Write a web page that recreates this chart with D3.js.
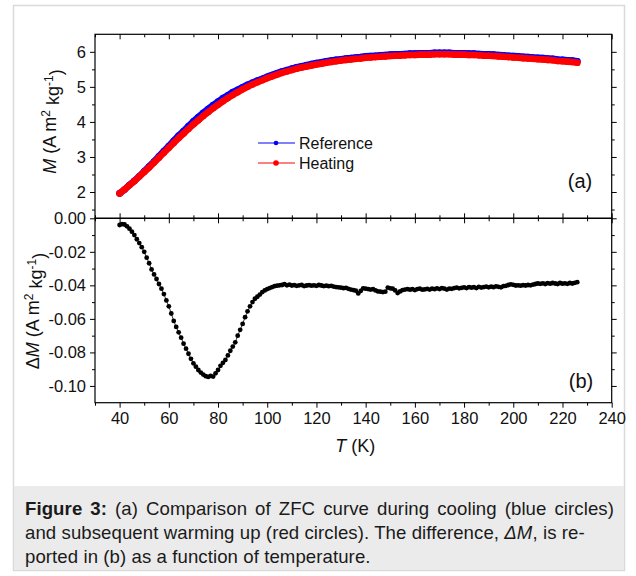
<!DOCTYPE html>
<html>
<head>
<meta charset="utf-8">
<script src="https://cdn.jsdelivr.net/npm/d3@7"></script>
<style>
  html, body { margin: 0; padding: 0; background: #fff; }
  svg { display: block; font-family: "Liberation Sans", Arial, Helvetica, sans-serif; }
</style>
</head>
<body>
<svg id="chart" width="636" height="576"></svg>
<script>
// ---------------- DATA ----------------
const tempM = [40,42,44,46,48,50,52,54,56,58,
  60,62,64,66,68,70,72,74,76,78,
  80,82,84,86,88,90,92,94,96,98,
  100,102,104,106,108,110,112,114,116,118,
  120,122,124,126,128,130,132,134,136,138,
  140,142,144,146,148,150,152,154,156,158,
  160,162,164,166,168,170,172,174,176,178,
  180,182,184,186,188,190,192,194,196,198,
  200,202,204,206,208,210,212,214,216,218,
  220,222,224,226];

const mReference = [1.96,2.07,2.20,2.32,2.45,2.59,2.73,2.87,3.02,3.17,
  3.31,3.46,3.61,3.74,3.88,4.02,4.14,4.26,4.37,4.48,
  4.58,4.68,4.76,4.85,4.92,4.99,5.06,5.12,5.18,5.23,
  5.29,5.34,5.39,5.44,5.48,5.52,5.56,5.59,5.62,5.65,
  5.68,5.70,5.73,5.75,5.77,5.79,5.81,5.82,5.84,5.85,
  5.87,5.88,5.89,5.90,5.91,5.92,5.93,5.93,5.94,5.95,
  5.95,5.96,5.96,5.96,5.97,5.97,5.97,5.97,5.96,5.96,
  5.96,5.95,5.95,5.94,5.93,5.93,5.92,5.91,5.90,5.89,
  5.88,5.87,5.86,5.85,5.84,5.83,5.82,5.81,5.80,5.78,
  5.77,5.76,5.75,5.73];

const mHeating = [1.96,2.07,2.19,2.31,2.44,2.57,2.70,2.84,2.98,3.12,
  3.26,3.40,3.54,3.67,3.80,3.93,4.05,4.17,4.28,4.39,
  4.49,4.59,4.68,4.77,4.85,4.93,5.00,5.07,5.13,5.19,
  5.25,5.30,5.35,5.40,5.44,5.48,5.52,5.55,5.58,5.61,
  5.64,5.66,5.69,5.71,5.73,5.75,5.77,5.78,5.80,5.81,
  5.83,5.84,5.85,5.86,5.87,5.88,5.89,5.89,5.90,5.91,
  5.91,5.92,5.92,5.92,5.93,5.93,5.93,5.93,5.92,5.92,
  5.92,5.91,5.91,5.90,5.89,5.89,5.88,5.87,5.86,5.85,
  5.84,5.83,5.82,5.81,5.80,5.79,5.78,5.77,5.76,5.74,
  5.73,5.72,5.71,5.69];

const tempDM = [40,41,42,43,44,45,46,47,48,49,
  50,51,52,53,54,55,56,57,58,59,
  60,61,62,63,64,65,66,67,68,69,
  70,71,72,73,74,75,76,77,78,79,
  80,81,82,83,84,85,86,87,88,89,
  90,91,92,93,94,95,96,97,98,99,
  100,101,102,103,104,105,106,107,108,109,
  110,111,112,113,114,115,116,117,118,119,
  120,121,122,123,124,125,126,127,128,129,
  130,131,132,133,134,135,136,137,138,139,
  140,141,142,143,144,145,146,147,148,149,
  150,151,152,153,154,155,156,157,158,159,
  160,161,162,163,164,165,166,167,168,169,
  170,171,172,173,174,175,176,177,178,179,
  180,181,182,183,184,185,186,187,188,189,
  190,191,192,193,194,195,196,197,198,199,
  200,201,202,203,204,205,206,207,208,209,
  210,211,212,213,214,215,216,217,218,219,
  220,221,222,223,224,225,226];

const deltaM = [-0.0040,-0.0035,-0.0037,-0.0048,-0.0062,-0.0080,-0.0100,-0.0125,-0.0148,-0.0172,
  -0.0200,-0.0235,-0.0268,-0.0305,-0.0335,-0.0362,-0.0392,-0.0420,-0.0452,-0.0490,
  -0.0525,-0.0568,-0.0612,-0.0648,-0.0680,-0.0712,-0.0748,-0.0778,-0.0808,-0.0838,
  -0.0865,-0.0885,-0.0905,-0.0920,-0.0932,-0.0942,-0.0946,-0.0940,-0.0944,-0.0925,
  -0.0905,-0.0880,-0.0862,-0.0845,-0.0818,-0.0790,-0.0765,-0.0740,-0.0700,-0.0665,
  -0.0630,-0.0590,-0.0555,-0.0525,-0.0500,-0.0480,-0.0468,-0.0455,-0.0440,-0.0430,
  -0.0422,-0.0416,-0.0410,-0.0405,-0.0402,-0.0400,-0.0398,-0.0393,-0.0400,-0.0396,
  -0.0401,-0.0399,-0.0403,-0.0400,-0.0398,-0.0404,-0.0401,-0.0399,-0.0402,-0.0400,
  -0.0403,-0.0398,-0.0401,-0.0404,-0.0402,-0.0405,-0.0403,-0.0407,-0.0410,-0.0412,
  -0.0414,-0.0417,-0.0415,-0.0421,-0.0425,-0.0428,-0.0432,-0.0448,-0.0433,-0.0418,
  -0.0420,-0.0422,-0.0425,-0.0423,-0.0430,-0.0436,-0.0438,-0.0440,-0.0438,-0.0413,
  -0.0418,-0.0420,-0.0430,-0.0446,-0.0436,-0.0428,-0.0425,-0.0422,-0.0426,-0.0423,
  -0.0428,-0.0422,-0.0420,-0.0426,-0.0424,-0.0421,-0.0425,-0.0420,-0.0423,-0.0418,
  -0.0422,-0.0416,-0.0420,-0.0425,-0.0419,-0.0421,-0.0416,-0.0413,-0.0418,-0.0415,
  -0.0412,-0.0416,-0.0410,-0.0414,-0.0411,-0.0416,-0.0409,-0.0413,-0.0410,-0.0407,
  -0.0412,-0.0408,-0.0411,-0.0406,-0.0409,-0.0412,-0.0405,-0.0403,-0.0398,-0.0394,
  -0.0397,-0.0401,-0.0400,-0.0402,-0.0399,-0.0401,-0.0398,-0.0400,-0.0396,-0.0392,
  -0.0389,-0.0391,-0.0388,-0.0392,-0.0387,-0.0390,-0.0386,-0.0389,-0.0392,-0.0386,
  -0.0390,-0.0388,-0.0391,-0.0386,-0.0389,-0.0385,-0.0381];

const xMajorTicks = [40,60,80,100,120,140,160,180,200,220,240];
const xMinorTicks = [30,50,70,90,110,130,150,170,190,210,230];
const yTopMajorTicks = [2,3,4,5,6];
const yTopMinorTicks = [1.5,2.5,3.5,4.5,5.5];
const yBotMajorTicks = [0,-0.02,-0.04,-0.06,-0.08,-0.10];
const yBotMinorTicks = [-0.01,-0.03,-0.05,-0.07,-0.09];
const seriesNames = ["Reference", "Heating"];
const seriesColors = ["#0000ff", "#ff0000"];
const panelLabels = ["(a)", "(b)"];
const captionLines = [
  [{t:"Figure 3:", b:true}, {t:" (a) Comparison of ZFC curve during cooling (blue circles)"}],
  [{t:"and subsequent warming up (red circles). The difference, "}, {t:"ΔM", i:true}, {t:", is re-"}],
  [{t:"ported in (b) as a function of temperature."}]
];

// ---------------- LAYOUT ----------------
const svg = d3.select("#chart");
const L = 95, R = 611.7, TOP = 34.3, MID = 218.3, BOT = 402.7;

svg.append("rect").attr("x",0).attr("y",0).attr("width",636).attr("height",576).attr("fill","#fff");
svg.append("rect").attr("x",13.5).attr("y",5.5).attr("width",611).attr("height",565)
  .attr("fill","none").attr("stroke","#dadada").attr("stroke-width",1.5);
svg.append("rect").attr("x",14).attr("y",486).attr("width",610).attr("height",84).attr("fill","#ebebeb");

const x = d3.scaleLinear().domain([30,240]).range([L,R]);
const yTop = d3.scaleLinear().domain([1.25,6.5]).range([MID,TOP]);
const yBot = d3.scaleLinear().domain([-0.11,0]).range([BOT,MID]);

function styleAxis(g){
  g.select(".domain").remove();
  g.selectAll(".tick line").attr("stroke","#000").attr("stroke-width",1);
  g.selectAll(".tick text").attr("fill","#111").style("font-size","16.5px")
    .style("font-family",'"Liberation Sans", Arial, sans-serif');
}
function addAxis(gen, tx, ty){
  const g = svg.append("g").attr("transform",`translate(${tx},${ty})`).call(gen);
  styleAxis(g);
  return g;
}
const fmt2 = d => d.toFixed(2).replace("-0.00","0.00");

addAxis(d3.axisLeft(yTop).tickValues(yTopMajorTicks).tickSize(5).tickPadding(4).tickFormat(d3.format("d")), L, 0);
addAxis(d3.axisLeft(yTop).tickValues(yTopMinorTicks).tickSize(3).tickFormat(""), L, 0);
addAxis(d3.axisLeft(yTop).tickValues(yTopMajorTicks).tickSize(-5).tickFormat(""), R, 0);
addAxis(d3.axisLeft(yTop).tickValues(yTopMinorTicks).tickSize(-3).tickFormat(""), R, 0);
addAxis(d3.axisTop(x).tickValues(xMajorTicks).tickSize(-5).tickFormat(""), 0, TOP);
addAxis(d3.axisTop(x).tickValues(xMinorTicks).tickSize(-3).tickFormat(""), 0, TOP);
addAxis(d3.axisTop(x).tickValues(xMajorTicks).tickSize(5).tickFormat(""), 0, MID);
addAxis(d3.axisBottom(x).tickValues(xMajorTicks).tickSize(5).tickFormat(""), 0, MID);
addAxis(d3.axisTop(x).tickValues(xMinorTicks).tickSize(3).tickFormat(""), 0, MID);
addAxis(d3.axisBottom(x).tickValues(xMinorTicks).tickSize(3).tickFormat(""), 0, MID);
addAxis(d3.axisBottom(x).tickValues(xMajorTicks).tickSize(5).tickPadding(5).tickFormat(d3.format("d")), 0, BOT);
addAxis(d3.axisBottom(x).tickValues(xMinorTicks).tickSize(3).tickFormat(""), 0, BOT);
addAxis(d3.axisLeft(yBot).tickValues(yBotMajorTicks).tickSize(5).tickPadding(4).tickFormat(fmt2), L, 0);
addAxis(d3.axisLeft(yBot).tickValues(yBotMinorTicks).tickSize(3).tickFormat(""), L, 0);
addAxis(d3.axisLeft(yBot).tickValues(yBotMajorTicks).tickSize(-5).tickFormat(""), R, 0);
addAxis(d3.axisLeft(yBot).tickValues(yBotMinorTicks).tickSize(-3).tickFormat(""), R, 0);

const frame = svg.append("g").attr("fill","none").attr("stroke","#000").attr("stroke-width",1.2);
frame.append("rect").attr("x",L).attr("y",TOP).attr("width",R-L).attr("height",MID-TOP);
frame.append("rect").attr("x",L).attr("y",MID).attr("width",R-L).attr("height",BOT-MID);

// ---------------- MARKS ----------------
const series = [mReference, mHeating];
const lineTop = d3.line().x(d => x(d[0])).y(d => yTop(d[1]));
series.forEach((vals, si) => {
  const pts = tempM.map((t,i) => [t, vals[i]]);
  const g = svg.append("g");
  g.append("path").datum(pts).attr("d", lineTop).attr("fill","none")
    .attr("stroke", seriesColors[si]).attr("stroke-width", 6.6)
    .attr("stroke-linecap","round").attr("stroke-linejoin","round");
  g.selectAll("circle").data(pts).join("circle")
    .attr("cx", d => x(d[0])).attr("cy", d => yTop(d[1])).attr("r", 3.3)
    .attr("fill", seriesColors[si]);
});

const dmPts = tempDM.map((t,i) => [t, deltaM[i]]);
svg.append("path").datum(dmPts)
  .attr("d", d3.line().x(d => x(d[0])).y(d => yBot(d[1])))
  .attr("fill","none").attr("stroke","#000").attr("stroke-width",0.8);
svg.append("g").selectAll("circle").data(dmPts).join("circle")
  .attr("cx", d => x(d[0])).attr("cy", d => yBot(d[1])).attr("r", 2.4).attr("fill","#000");

// ---------------- LEGEND ----------------
const legY = [143, 163], legR = [2.3, 2.8];
seriesNames.forEach((name, i) => {
  svg.append("line").attr("x1",258).attr("x2",295).attr("y1",legY[i]).attr("y2",legY[i])
    .attr("stroke", seriesColors[i]).attr("stroke-width",1);
  svg.append("circle").attr("cx",276).attr("cy",legY[i]).attr("r",legR[i]).attr("fill",seriesColors[i]);
  svg.append("text").attr("x",299).attr("y",legY[i]+5.8).text(name)
    .style("font-size","16px").attr("fill","#111");
});

svg.append("text").attr("x",580).attr("y",188).attr("text-anchor","middle").text(panelLabels[0])
  .style("font-size","20px").attr("fill","#111");
svg.append("text").attr("x",581).attr("y",388).attr("text-anchor","middle").text(panelLabels[1])
  .style("font-size","20px").attr("fill","#111");

// ---------------- AXIS TITLES ----------------
function yTitle(cx, cy, parts){
  const t = svg.append("text").attr("transform",`translate(${cx},${cy}) rotate(-90)`)
    .attr("text-anchor","middle").attr("dy","0.35em").style("font-size","18px").attr("fill","#111");
  parts.forEach(p => {
    const s = t.append("tspan").text(p.t);
    if (p.i) s.style("font-style","italic");
    if (p.sup) s.attr("dy", "-0.5em").style("font-size","12px");
    if (p.after) s.attr("dy", "0.5em");
  });
}
yTitle(50, 121.5, [{t:"M", i:true},{t:" (A m"},{t:"2", sup:true},{t:" kg", after:true},{t:"-1", sup:true},{t:")", after:true}]);
yTitle(33, 311, [{t:"Δ"},{t:"M", i:true},{t:" (A m"},{t:"2", sup:true},{t:" kg", after:true},{t:"-1", sup:true},{t:")", after:true}]);

const xt = svg.append("text").attr("x",(L+R)/2 + 2).attr("y",452).attr("text-anchor","middle")
  .style("font-size","18px").attr("fill","#111");
xt.append("tspan").text("T").style("font-style","italic");
xt.append("tspan").text(" (K)");

// ---------------- CAPTION ----------------
const capY = [515, 539, 563];
const capTexts = captionLines.map((parts, li) => {
  const t = svg.append("text").attr("x",25).attr("y",capY[li]).style("font-size","18.6px")
    .style("letter-spacing","0.08px").attr("fill","#1a1a1a");
  parts.forEach(p => {
    const s = t.append("tspan").text(p.t);
    if (p.b) s.style("font-weight","bold");
    if (p.i) s.style("font-style","italic");
  });
  return t;
});
// first line is justified to the caption width (as in the reference)
const w0 = capTexts[0].node().getComputedTextLength();
const nSpaces = (captionLines[0].map(p => p.t).join("").match(/ /g) || []).length;
if (w0 > 0 && nSpaces > 0) {
  const ws = Math.max(0, Math.min(5, (589 - w0) / nSpaces));
  capTexts[0].style("word-spacing", ws + "px");
}
</script>
</body>
</html>
